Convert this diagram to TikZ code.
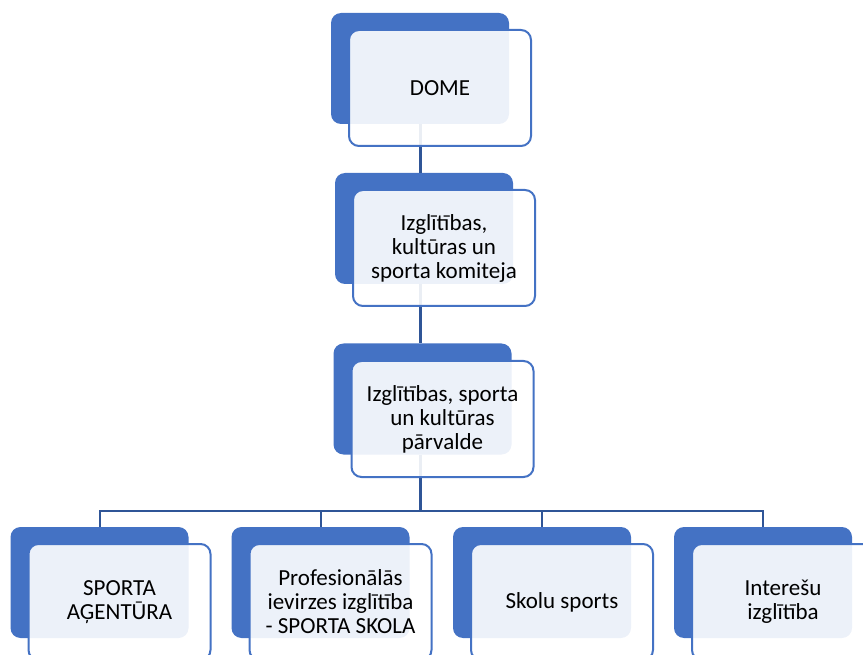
\documentclass[tikz,border=0pt]{standalone}
\usepackage{fontspec}
\setmainfont{Carlito}
\definecolor{orgblue}{HTML}{4472C4}
\definecolor{orgline}{HTML}{2F5597}
\usetikzlibrary{positioning}
\tikzset{
  backbox/.style={
    fill=orgblue, draw=none, rounded corners=10pt,
    minimum width=178pt, minimum height=111pt, inner sep=0pt
  },
  frontbox/.style={
    draw=orgblue, line width=2pt, fill=white, fill opacity=0.9,
    text opacity=1, rounded corners=10pt,
    minimum width=182pt, minimum height=116pt, inner sep=2pt,
    align=center, font=\fontsize{23}{24}\selectfont
  },
  trunk/.style={draw=orgline, line width=3pt},
  branch/.style={draw=orgline, line width=2pt}
}
\begin{document}
\begin{tikzpicture}[x=1pt, y=-1pt]
  \useasboundingbox (0,0) rectangle (863,655);
  \clip (0,0) rectangle (863,655);

  % upper chain
  \node[backbox] (dome-b) at (420,68.5)  {};
  \node[backbox] (kom-b)  at (424,228.5) {};
  \node[backbox] (parv-b) at (422.5,399) {};
  \coordinate (bus) at (dome-b.south |- 0,511);

  \draw[trunk] (dome-b.south) -- (dome-b.south |- kom-b.north);
  \draw[trunk] (dome-b.south |- kom-b.south) -- (dome-b.south |- parv-b.north);
  \draw[trunk] (dome-b.south |- parv-b.south) -- (bus);

  \node[frontbox] (dome-f) at (440,88)    {DOME};
  \node[frontbox] (kom-f)  at (444,248)   {Izglītības,\\kultūras un\\sporta komiteja};
  \node[frontbox] (parv-f) at (442.5,419) {Izglītības, sporta\\un kultūras\\pārvalde};

  % lower row
  \foreach \x/\name/\txt in {99.5/agent/{SPORTA\\AĢENTŪRA},
                            320.5/skola/{Profesionālās\\ievirzes izglītība\\- SPORTA SKOLA},
                            542/skolu/{Skolu sports},
                            763/inter/{Interešu\\izglītība}}{
    \node[backbox] (\name-b) at (\x,582.5) {};
    \draw[branch] (bus) -| (\name-b.north);
    \node[frontbox] (\name-f) at (\x+20,602) {\txt};
  }
\end{tikzpicture}
\end{document}
